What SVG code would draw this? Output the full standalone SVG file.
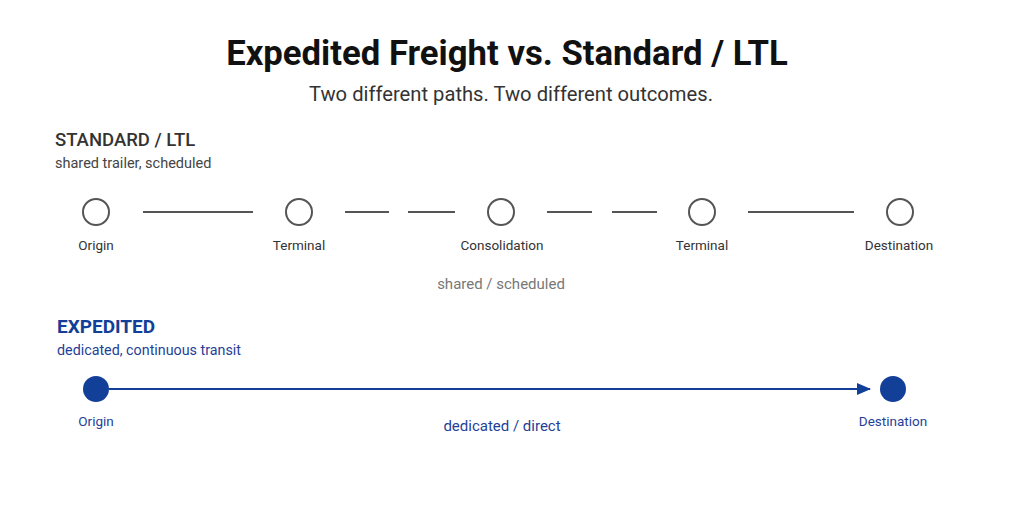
<svg xmlns="http://www.w3.org/2000/svg" width="1024" height="512" viewBox="0 0 1024 512">
<style>
text{font-family:Roboto,"Liberation Sans",sans-serif}
.title{font-size:34.7px;font-weight:700;fill:#111}
.sub{font-size:20.2px;fill:#333}
.head{font-size:18.5px;font-weight:500;fill:#333}
.note{font-size:14.5px;fill:#444}
.lbl{font-size:13.5px;fill:#333;text-anchor:middle}
.std circle{fill:#fff;stroke:#555;stroke-width:2}
.seg{stroke:#555;stroke-width:2}
.blue{fill:#123f98}
.ehead{font-size:19px;font-weight:700;fill:#123f98}
.enote{font-size:14.3px;fill:#1f3f98}
.elbl{font-size:13.5px;fill:#1f3f98;text-anchor:middle}
</style>
<defs>
<marker id="arr" markerWidth="14" markerHeight="12" refX="13" refY="6" orient="auto" markerUnits="userSpaceOnUse">
<path d="M0,0 L14,6 L0,12 Z" fill="#123f98"/>
</marker>
</defs>
<rect width="1024" height="512" fill="#fff"/>
<text class="title" x="507" y="65" text-anchor="middle">Expedited Freight vs. Standard / LTL</text>
<text class="sub" x="511" y="101" text-anchor="middle">Two different paths. Two different outcomes.</text>
<text class="head" x="55" y="146">STANDARD / LTL</text>
<text class="note" x="55" y="168">shared trailer, scheduled</text>
<g id="connectors">
<line class="seg" x1="143" y1="212" x2="253" y2="212"/>
<line class="seg" x1="345" y1="212" x2="389" y2="212"/>
<line class="seg" x1="408" y1="212" x2="455" y2="212"/>
<line class="seg" x1="547" y1="212" x2="592" y2="212"/>
<line class="seg" x1="612" y1="212" x2="657" y2="212"/>
<line class="seg" x1="748" y1="212" x2="854" y2="212"/>
<line x1="109" y1="389" x2="870" y2="389" stroke="#123f98" stroke-width="2" marker-end="url(#arr)"/>
</g>
<g id="std-origin" class="std"><circle cx="96" cy="212" r="13"/><text class="lbl" x="96" y="250">Origin</text></g>
<g id="std-terminal1" class="std"><circle cx="299" cy="212" r="13"/><text class="lbl" x="299" y="250">Terminal</text></g>
<g id="std-consolidation" class="std"><circle cx="501" cy="212" r="13"/><text class="lbl" x="502" y="250">Consolidation</text></g>
<g id="std-terminal2" class="std"><circle cx="702" cy="212" r="13"/><text class="lbl" x="702" y="250">Terminal</text></g>
<g id="std-destination" class="std"><circle cx="900" cy="212" r="13"/><text class="lbl" x="899" y="250">Destination</text></g>
<text x="501" y="289" text-anchor="middle" font-size="15" fill="#777">shared / scheduled</text>
<text class="ehead" x="57" y="333">EXPEDITED</text>
<text class="enote" x="57" y="355">dedicated, continuous transit</text>
<g id="exp-origin"><circle class="blue" cx="96" cy="389" r="13"/><text class="elbl" x="96" y="426">Origin</text></g>
<g id="exp-destination"><circle class="blue" cx="893" cy="389" r="13"/><text class="elbl" x="893" y="426">Destination</text></g>
<text x="502" y="431" text-anchor="middle" font-size="15" fill="#1f3f98">dedicated / direct</text>
</svg>
